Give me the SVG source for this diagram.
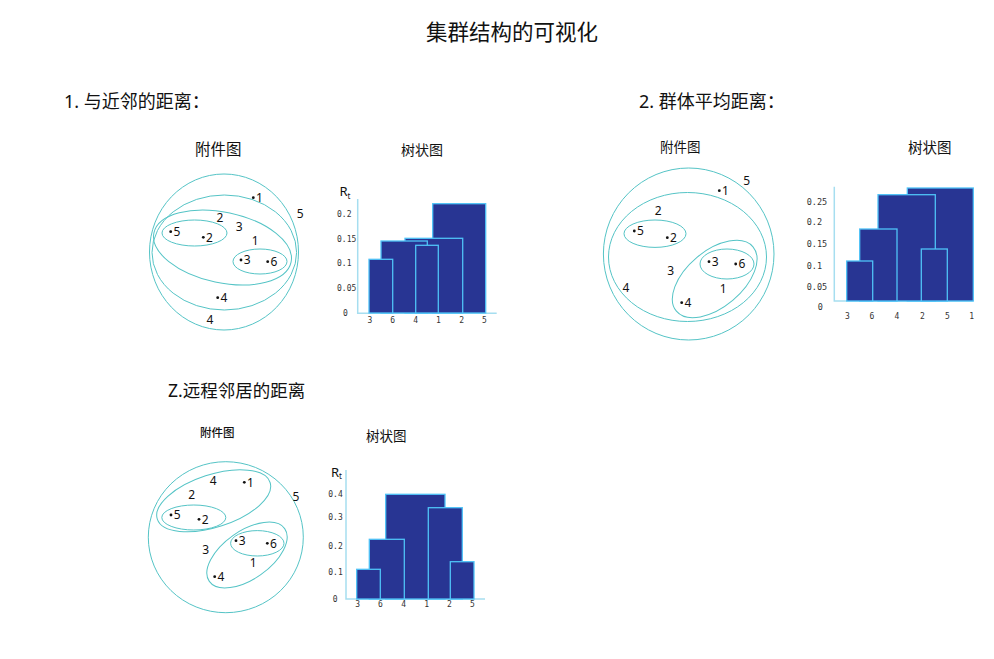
<svg xmlns="http://www.w3.org/2000/svg" width="994" height="659" viewBox="0 0 994 659">
<style>
.h{font-family:"Noto Sans","Noto Sans CJK SC",sans-serif;fill:#111}
.cj{font-family:"Noto Sans CJK SC",sans-serif;fill:#111}
.cl{fill:none;stroke:#55c4c6;stroke-width:1}
.n{font-family:"Noto Sans","Liberation Sans",sans-serif;font-size:12px;fill:#111}
.lm{text-anchor:middle}
.d{fill:#111}
.ax{stroke:#a6def0;stroke-width:1.5;fill:none}
.bar{fill:#283593;stroke:#4fc3f7;stroke-width:1.3}
.t{font-family:"DejaVu Sans Mono",monospace;font-size:8px;fill:#333}
.r{font-family:"Noto Sans","Liberation Sans",sans-serif;font-size:13px;fill:#111}
.rs{font-family:"Noto Sans","Liberation Sans",sans-serif;font-size:8px;fill:#111}
</style>
<rect width="994" height="659" fill="#fff"/>
<text class="cj" x="512" y="40" font-size="21.5" text-anchor="middle">集群结构的可视化</text>

<text class="h" x="64" y="108" font-size="18">1. 与近邻的距离：</text>
<text class="h" x="639" y="108" font-size="18">2. 群体平均距离：</text>
<text class="h" x="168" y="397" font-size="17.5">Z.远程邻居的距离</text>

<text class="cj" x="195" y="155" font-size="15.5">附件图</text>
<text class="cj" x="401" y="155" font-size="14">树状图</text>
<text class="cj" x="660" y="152" font-size="13.5">附件图</text>
<text class="cj" x="908" y="153" font-size="14.5">树状图</text>
<text class="cj" x="200" y="437" font-size="11.5" font-weight="500">附件图</text>
<text class="cj" x="366" y="441" font-size="13.5">树状图</text>

<!-- Diagram 1: attachment -->
<g id="attach1">
<ellipse class="cl" cx="224" cy="252" rx="74.5" ry="78"/>
<ellipse class="cl" cx="224.3" cy="252.5" rx="72.3" ry="57.5"/>
<ellipse class="cl" cx="222.5" cy="247.5" rx="70.1" ry="35.3" transform="rotate(12 222.5 247.5)"/>
<ellipse class="cl" cx="194.5" cy="233" rx="32.5" ry="13"/>
<ellipse class="cl" cx="260" cy="261.5" rx="27" ry="12.5"/>
<circle class="d" cx="253.3" cy="197.7" r="1.4"/><text class="n" x="256" y="202">1</text>
<circle class="d" cx="170.7" cy="231.7" r="1.4"/><text class="n" x="173.4" y="236">5</text>
<circle class="d" cx="203.3" cy="237.3" r="1.4"/><text class="n" x="206" y="241.6">2</text>
<circle class="d" cx="241" cy="260" r="1.4"/><text class="n" x="243.7" y="264.3">3</text>
<circle class="d" cx="267.7" cy="261.7" r="1.4"/><text class="n" x="270.4" y="266">6</text>
<circle class="d" cx="217.7" cy="297.7" r="1.4"/><text class="n" x="220.4" y="302">4</text>
<text class="n lm" x="220" y="222.3">2</text>
<text class="n lm" x="239.3" y="231.3">3</text>
<text class="n lm" x="255.3" y="245.3">1</text>
<text class="n lm" x="300.3" y="218.3">5</text>
<text class="n lm" x="210" y="324.3">4</text>
</g>

<!-- Dendrogram 1 -->
<g id="dendro1">
<text class="r" x="339.5" y="196">R</text><text class="rs" x="347.5" y="198.5">t</text>
<path class="ax" d="M357.7 199 V313.3 H496.7"/>
<rect class="bar" x="432.7" y="203.7" width="53" height="109.3"/>
<rect class="bar" x="405" y="238.3" width="57.7" height="74.7"/>
<rect class="bar" x="381" y="241" width="46.3" height="72"/>
<rect class="bar" x="415.7" y="245.3" width="22.6" height="67.7"/>
<rect class="bar" x="369" y="259.3" width="23.7" height="53.7"/>
<text class="t" x="337" y="217.3">0.2</text>
<text class="t" x="337" y="242.3">0.15</text>
<text class="t" x="337" y="266.3">0.1</text>
<text class="t" x="337" y="291">0.05</text>
<text class="t" x="343" y="315.7">0</text>
<g class="t" text-anchor="middle">
<text x="370" y="323">3</text><text x="392.7" y="323">6</text><text x="415.7" y="323">4</text>
<text x="438.3" y="323">1</text><text x="461.7" y="323">2</text><text x="484.3" y="323">5</text>
</g>
</g>

<!-- Diagram 2: attachment -->
<g id="attach2">
<ellipse class="cl" cx="688.7" cy="254" rx="85.3" ry="86"/>
<ellipse class="cl" cx="687.5" cy="257" rx="79" ry="64.5"/>
<ellipse class="cl" cx="655" cy="233.7" rx="31" ry="13.7"/>
<ellipse class="cl" cx="714.7" cy="279" rx="50" ry="28" transform="rotate(-40 714.7 279)"/>
<ellipse class="cl" cx="727" cy="264" rx="27" ry="15"/>
<circle class="d" cx="719.3" cy="190.7" r="1.4"/><text class="n" x="722" y="195">1</text>
<circle class="d" cx="634.3" cy="231" r="1.4"/><text class="n" x="637" y="235.3">5</text>
<circle class="d" cx="667.3" cy="237.7" r="1.4"/><text class="n" x="670" y="242">2</text>
<circle class="d" cx="709" cy="261.7" r="1.4"/><text class="n" x="711.7" y="266">3</text>
<circle class="d" cx="735.7" cy="264" r="1.4"/><text class="n" x="738.4" y="268.3">6</text>
<circle class="d" cx="681.7" cy="302.7" r="1.4"/><text class="n" x="684.4" y="307">4</text>
<text class="n lm" x="746.7" y="185">5</text>
<text class="n lm" x="658.3" y="215">2</text>
<text class="n lm" x="626" y="292.3">4</text>
<text class="n lm" x="670.7" y="275.3">3</text>
<text class="n lm" x="723.3" y="292.6">1</text>
</g>

<!-- Dendrogram 2 -->
<g id="dendro2">
<path class="ax" d="M834.3 186.7 V301 H973.3"/>
<rect class="bar" x="907.3" y="188" width="66" height="113"/>
<rect class="bar" x="878" y="194.7" width="57.3" height="106.3"/>
<rect class="bar" x="859.7" y="229" width="37.3" height="72"/>
<rect class="bar" x="921.3" y="249" width="26" height="52"/>
<rect class="bar" x="846.7" y="261" width="26" height="40"/>
<g class="t">
<text x="806.7" y="204.7" style="font-size:8.5px">0.25</text>
<text x="806.7" y="225.3" style="font-size:8.5px">0.2</text>
<text x="806.7" y="247" style="font-size:8.5px">0.15</text>
<text x="806.7" y="268.7" style="font-size:8.5px">0.1</text>
<text x="806.7" y="289.7" style="font-size:8.5px">0.05</text>
<text x="817.7" y="309.7" style="font-size:8.5px">0</text>
</g>
<g class="t" text-anchor="middle">
<text x="847.3" y="318.7">3</text><text x="872" y="318.7">6</text><text x="897" y="318.7">4</text>
<text x="922.3" y="318.7">2</text><text x="947.3" y="318.7">5</text><text x="971.7" y="318.7">1</text>
</g>
</g>

<!-- Diagram 3: attachment -->
<g id="attach3">
<ellipse class="cl" cx="225.8" cy="537.2" rx="77.5" ry="75.5"/>
<ellipse class="cl" cx="213.7" cy="500.8" rx="59.3" ry="26.3" transform="rotate(-18 213.7 500.8)"/>
<ellipse class="cl" cx="193.8" cy="517.5" rx="32" ry="12.5"/>
<ellipse class="cl" cx="247" cy="555" rx="46" ry="24" transform="rotate(-35 247 555)"/>
<ellipse class="cl" cx="257.3" cy="543.3" rx="26.7" ry="12.7"/>
<circle class="d" cx="244.3" cy="482.3" r="1.4"/><text class="n" x="247" y="486.6">1</text>
<circle class="d" cx="171" cy="515" r="1.4"/><text class="n" x="173.7" y="519.3">5</text>
<circle class="d" cx="199" cy="519.3" r="1.4"/><text class="n" x="201.7" y="523.6">2</text>
<circle class="d" cx="236" cy="540.7" r="1.4"/><text class="n" x="238.7" y="545">3</text>
<circle class="d" cx="267.3" cy="543.3" r="1.4"/><text class="n" x="270" y="547.6">6</text>
<circle class="d" cx="214.7" cy="576.7" r="1.4"/><text class="n" x="217.4" y="581">4</text>
<text class="n lm" x="213.3" y="485">4</text>
<text class="n lm" x="191.7" y="498.6">2</text>
<text class="n lm" x="296" y="501">5</text>
<text class="n lm" x="205.7" y="553.6">3</text>
<text class="n lm" x="253.3" y="567">1</text>
</g>

<!-- Dendrogram 3 -->
<g id="dendro3">
<text class="r" x="331" y="476.5">R</text><text class="rs" x="339" y="479">t</text>
<path class="ax" d="M346 470 V599 H485"/>
<rect class="bar" x="385.7" y="494.3" width="59.3" height="104.7"/>
<rect class="bar" x="428.3" y="507.7" width="34" height="91.3"/>
<rect class="bar" x="369.3" y="539.3" width="35" height="59.7"/>
<rect class="bar" x="450.3" y="561.7" width="23.7" height="37.3"/>
<rect class="bar" x="356.7" y="569.3" width="23.6" height="29.7"/>
<text class="t" x="328.3" y="497.3">0.4</text>
<text class="t" x="328.3" y="520.3">0.3</text>
<text class="t" x="328.3" y="549">0.2</text>
<text class="t" x="328.3" y="575.3">0.1</text>
<text class="t" x="332.7" y="602.3">0</text>
<g class="t" text-anchor="middle">
<text x="357.7" y="607.3">3</text><text x="380.3" y="607.3">6</text><text x="403.7" y="607.3">4</text>
<text x="426.7" y="607.3">1</text><text x="449.3" y="607.3">2</text><text x="472.3" y="607.3">5</text>
</g>
</g>
</svg>
